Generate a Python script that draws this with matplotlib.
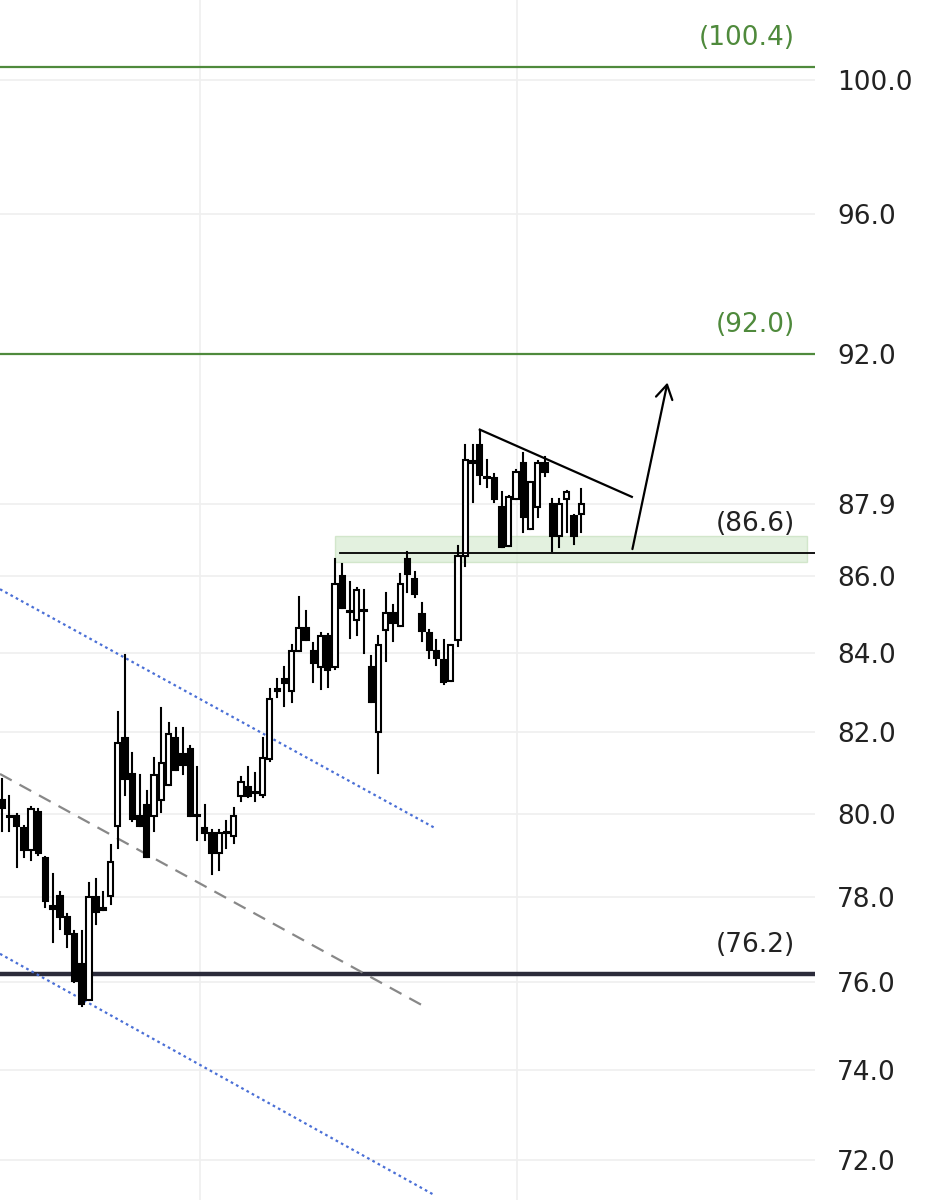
import matplotlib.pyplot as plt
from matplotlib.ticker import FixedLocator, NullLocator
from matplotlib.patches import Rectangle

# candles (oldest first)
opens = [80.33, 79.95, 79.93, 79.64, 79.11, 80.05, 78.92, 77.78, 78.02, 77.53,
         77.13, 76.42, 75.6, 78.0, 77.72, 78.02, 79.7, 81.87, 80.97, 79.93,
         80.2, 79.93, 80.33, 80.7, 81.87, 81.46, 81.59, 79.93, 79.64, 79.52,
         79.04, 79.52, 79.45, 80.44, 80.64, 80.5, 80.46, 81.33, 83.05, 83.35,
         83.05, 84.05, 84.64, 84.05, 83.66, 84.44, 83.66, 86.0, 85.08, 84.85,
         85.1, 83.66, 82.0, 84.59, 85.03, 84.69, 86.45, 85.92, 85.0, 84.51,
         84.05, 83.82, 83.3, 84.33, 86.53, 89.05, 89.49, 88.6, 88.61, 87.82,
         86.79, 88.03, 89.01, 87.24, 87.82, 89.01, 87.9, 87.05, 88.03, 87.58,
         87.63]
highs = [80.85, 80.44, 80.0, 79.7, 80.15, 80.1, 78.95, 78.55, 78.12, 77.6,
         77.2, 77.2, 78.34, 78.43, 78.12, 79.23, 82.52, 83.95, 81.49, 80.95,
         80.54, 81.36, 82.62, 82.23, 82.1, 82.1, 81.67, 81.15, 80.2, 79.6,
         79.6, 79.81, 80.13, 80.9, 81.15, 81.0, 81.87, 83.09, 83.35, 83.66,
         84.2, 85.46, 85.08, 84.26, 84.51, 84.5, 86.45, 86.32, 85.85, 85.67,
         85.62, 83.92, 84.44, 85.54, 85.23, 86.05, 86.63, 86.1, 85.3, 84.6,
         84.33, 84.33, 84.2, 86.79, 89.49, 89.49, 89.89, 89.09, 88.7, 88.21,
         88.1, 88.8, 89.28, 88.5, 89.05, 89.17, 88.03, 88.03, 88.24, 87.6,
         88.29]
lows = [79.57, 79.57, 78.72, 78.96, 78.87, 79.0, 77.76, 76.94, 77.25, 76.82,
        76.0, 75.45, 75.6, 77.37, 77.7, 77.83, 79.16, 80.46, 79.83, 79.71,
        78.96, 79.57, 80.05, 80.7, 81.08, 80.97, 79.93, 79.35, 79.35, 78.55,
        78.63, 79.16, 79.28, 80.3, 80.4, 80.3, 80.4, 81.28, 82.88, 82.65,
        82.75, 84.05, 84.33, 83.27, 83.09, 83.14, 83.6, 85.15, 84.38, 84.46,
        84.0, 82.75, 81.0, 83.79, 84.3, 84.69, 85.57, 85.46, 84.3, 83.87,
        83.69, 83.22, 83.3, 84.18, 86.26, 87.95, 88.43, 88.35, 87.95, 86.76,
        86.79, 88.03, 87.16, 87.24, 87.55, 88.64, 86.66, 86.76, 87.16, 86.84,
        87.16]
closes = [80.13, 79.92, 79.71, 79.11, 80.1, 79.04, 77.91, 77.72, 77.53, 77.13,
          76.02, 75.5, 78.0, 77.65, 77.7, 78.84, 81.74, 80.85, 79.88, 79.71,
          78.96, 80.95, 81.23, 81.97, 81.08, 81.2, 79.93, 79.93, 79.52, 79.04,
          79.52, 79.55, 79.93, 80.77, 80.44, 80.52, 81.36, 82.83, 83.09, 83.25,
          84.05, 84.64, 84.33, 83.74, 84.44, 83.56, 85.79, 85.15, 85.05, 85.62,
          85.08, 82.75, 84.2, 85.03, 84.77, 85.79, 86.05, 85.52, 84.56, 84.08,
          83.87, 83.27, 84.2, 86.53, 89.09, 89.01, 88.69, 88.61, 88.03, 86.76,
          88.08, 88.77, 87.55, 88.48, 89.01, 88.75, 87.05, 87.9, 88.21, 87.05,
          87.9]

yticks = [100.0, 96.0, 92.0, 87.9, 86.0, 84.0, 82.0, 80.0, 78.0, 76.0, 74.0, 72.0]
ytick_labels = ["100.0", "96.0", "92.0", "87.9", "86.0", "84.0", "82.0",
                "80.0", "78.0", "76.0", "74.0", "72.0"]
green_levels = [100.4, 92.0]
support = 86.6
floor_level = 76.2

green = "#4f8a3c"

fig = plt.figure(figsize=(9.4, 12), dpi=100)
ax = fig.add_axes([0, 0, 815 / 940, 1])
ax.set_yscale("log")
ax.set_ylim(71.13, 102.46)
ax.set_xlim(-0.28, 112.3)

# grid
for t in yticks:
    ax.axhline(t, color="#efefef", lw=1.2, zorder=0)
for gx in [27.35, 71.1]:
    ax.axvline(gx, color="#efefef", lw=1.2, zorder=0)

# candles
w = 0.72
for i in range(len(opens)):
    o, h, l, c = opens[i], highs[i], lows[i], closes[i]
    ax.plot([i, i], [l, h], color="black", lw=1.5, zorder=3)
    lo, hi = min(o, c), max(o, c)
    fc = "white" if c >= o else "black"
    ax.add_patch(Rectangle((i - w / 2, lo), w, max(hi - lo, 0.03),
                           facecolor=fc, edgecolor="black", lw=1.5, zorder=4))

# levels
for lv in green_levels:
    ax.axhline(lv, color=green, lw=1.6, zorder=2)
ax.axhline(floor_level, color="#2b2b3a", lw=3.2, zorder=2)
ax.plot([46.7, 112.3], [support, support], color="black", lw=1.3, zorder=5)
ax.add_patch(Rectangle((46.0, 86.37), 65.2, 0.67, facecolor="#d8ecd2",
                       edgecolor="#c5dfbd", alpha=0.7, lw=1, zorder=1))

# channel lines
ax.plot([-0.28, 59.8], [85.65, 79.65], color="#4a6fd6", lw=1.6, ls=(0, (1.2, 1.5)), zorder=2)
ax.plot([-0.28, 59.8], [76.66, 71.23], color="#4a6fd6", lw=1.6, ls=(0, (1.2, 1.5)), zorder=2)
ax.plot([-0.28, 58.7], [80.97, 75.41], color="#888888", lw=1.6, ls=(0, (6, 4)), zorder=2)

# triangle top and breakout arrow
ax.plot([66.0, 87.0], [89.91, 88.09], color="black", lw=1.6, zorder=5)
ax.annotate("", xy=(92.0, 91.28), xytext=(87.0, 86.63),
            arrowprops=dict(arrowstyle="->,head_length=1.0,head_width=0.6",
                            color="black", lw=1.6), zorder=6)

# level labels
lab_kw = dict(ha="right", va="center", fontsize=19)
ax.text(109.5, 101.29, "(100.4)", color=green, **lab_kw)
ax.text(109.5, 92.82, "(92.0)", color=green, **lab_kw)
ax.text(109.5, 87.37, "(86.6)", color="#222222", **lab_kw)
ax.text(109.5, 76.87, "(76.2)", color="#222222", **lab_kw)

ax.yaxis.tick_right()
ax.yaxis.set_major_locator(FixedLocator(yticks))
ax.yaxis.set_minor_locator(NullLocator())
ax.set_yticklabels(ytick_labels)
ax.tick_params(axis="y", length=0, pad=16, labelsize=19, labelcolor="#222222")
ax.set_xticks([])
for s in ax.spines.values():
    s.set_visible(False)

fig.savefig("out.png", dpi=100)
